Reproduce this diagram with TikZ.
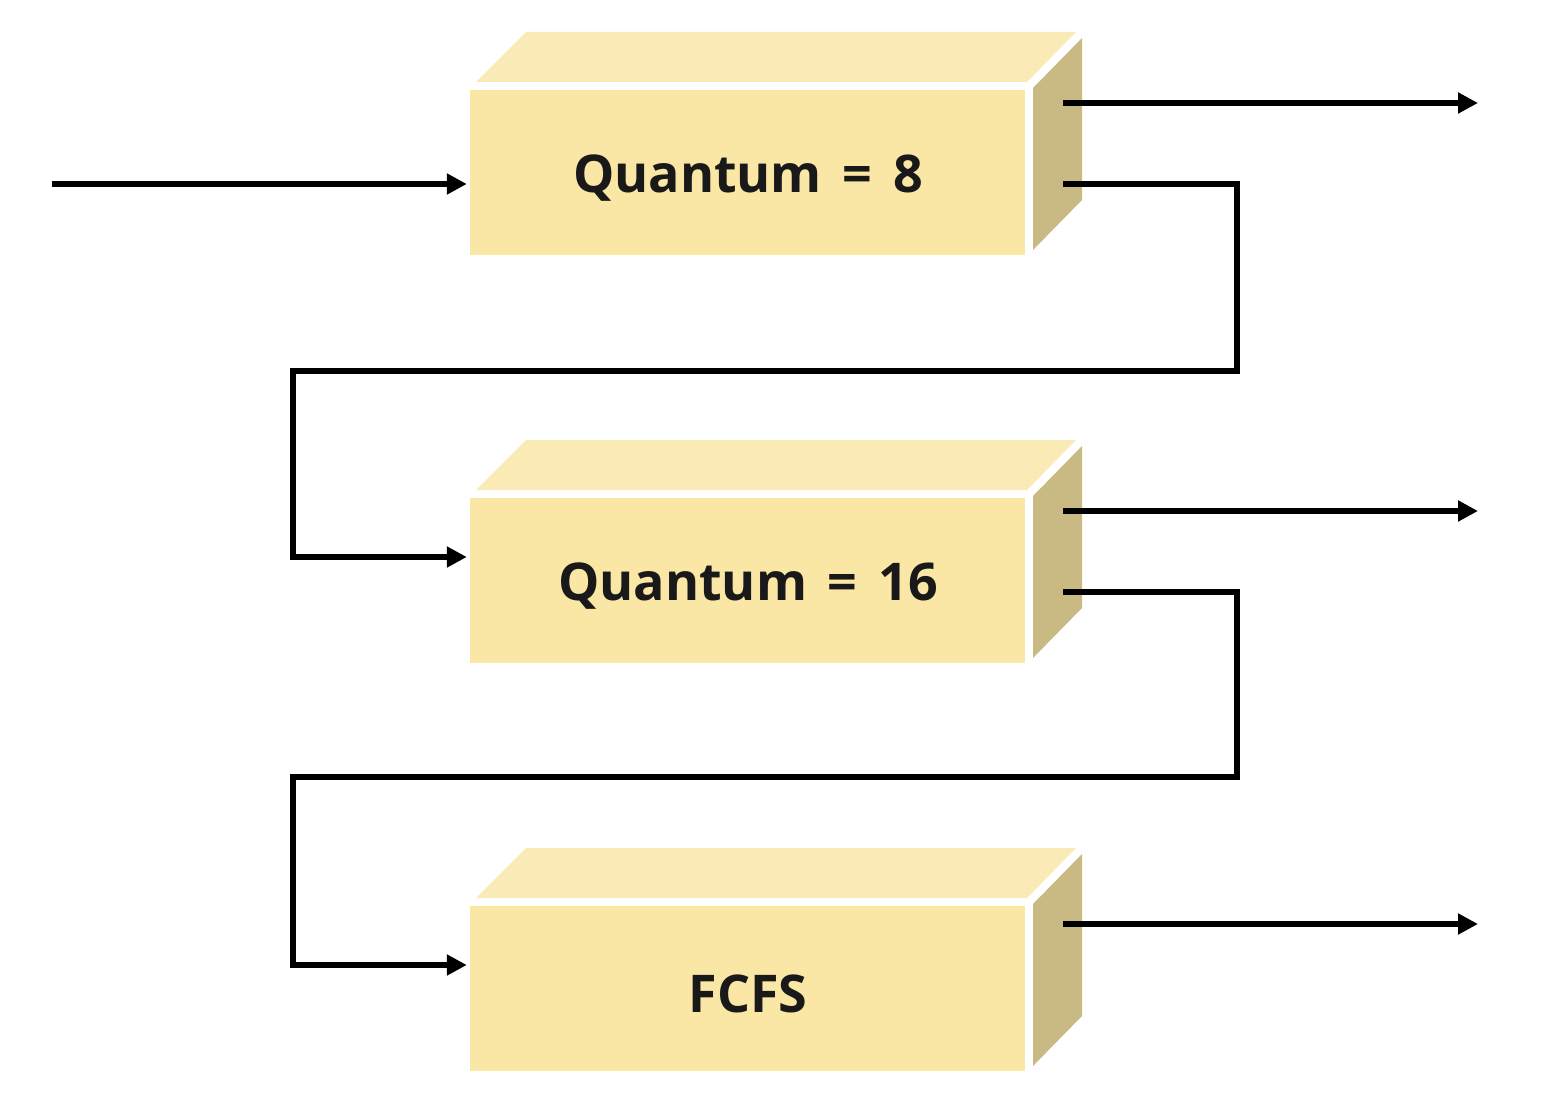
\documentclass[tikz,border=0pt]{standalone}
\usepackage{fontspec}
\setmainfont{Open Sans}
\usetikzlibrary{arrows.meta}
\definecolor{frontc}{RGB}{250,230,165}
\definecolor{topc}{RGB}{250,235,182}
\definecolor{sidec}{RGB}{201,185,131}
\tikzset{
  front/.style={fill=frontc, draw=none, inner sep=0pt, minimum width=555pt, minimum height=165pt},
  label/.style={font=\fontsize{52}{58}\selectfont\bfseries, text=black!90, inner sep=0pt},
  topface/.style={fill=topc, draw=none},
  sideface/.style={fill=sidec, draw=none},
  conn/.style={line width=6.5pt, -{Triangle[length=20pt,width=20pt]}, line join=miter},
}
\begin{document}
\begin{tikzpicture}[x=1pt,y=-1pt]
\useasboundingbox (0,0) rectangle (1554,1118);
\foreach \dy in {0,408,816}{
  \fill[topface] (476,82+\dy) -- (1027,82+\dy) -- (1076,32+\dy) -- (526,32+\dy) -- cycle;
  \fill[sideface] (1033,88+\dy) -- (1082,38+\dy) -- (1082,200+\dy) -- (1033,250+\dy) -- cycle;
}
\node[front] (q1) at (747.5,172.5) {};
\node[front] (q2) at (747.5,580.5) {};
\node[front] (q3) at (747.5,988.5) {};
\node[label] (t1) at (748,178) {Quantum\hspace{0.4em}=\hspace{0.4em}8};
\node[label] (t2) at (748,586) {Quantum\hspace{0.4em}=\hspace{0.4em}16};
\node[label] (t3) at (748,994) {FCFS};
% coordinates
\coordinate (in) at (52,184);
\coordinate (o1s) at (1063,103); \coordinate (o1e) at (1478,103);
\coordinate (o2s) at (1063,511); \coordinate (o2e) at (1478,511);
\coordinate (o3s) at (1063,924); \coordinate (o3e) at (1478,924);
\coordinate (f1s) at (1063,184); \coordinate (f2s) at (1063,592);
% arrows
\draw[conn] (in) -- ([xshift=-3pt]in -| q1.west);
\draw[conn] (o1s) -- (o1e);
\draw[conn] (o2s) -- (o2e);
\draw[conn] (o3s) -- (o3e);
\draw[conn] (f1s) -- (1237,184) -- (1237,371) -- (293,371) -- (293,557) -- ([xshift=-3pt]q2.west |- 0,557);
\draw[conn] (f2s) -- (1237,592) -- (1237,777) -- (293,777) -- (293,965) -- ([xshift=-3pt]q3.west |- 0,965);
\end{tikzpicture}
\end{document}
